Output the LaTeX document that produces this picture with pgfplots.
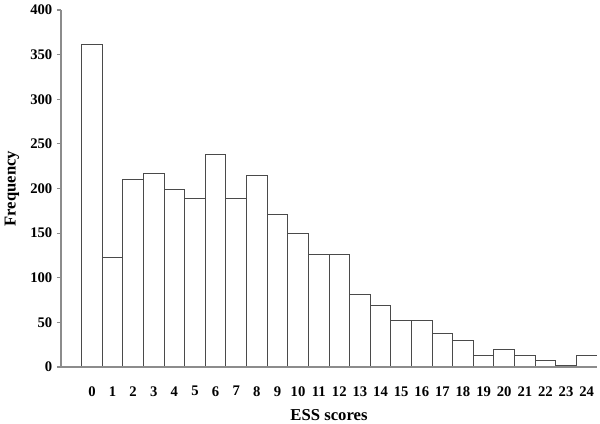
\documentclass[border=0pt]{standalone}
\usepackage{fontspec}
\setmainfont{Liberation Serif}
\usepackage{pgfplots}
\pgfplotsset{compat=1.18}
\definecolor{axisgray}{HTML}{8C8C8C}
\definecolor{bargray}{HTML}{4A4A4A}
\begin{document}
\begin{tikzpicture}
\useasboundingbox (-45.75pt,-42.75pt) rectangle (404.25pt,275.25pt);
\begin{axis}[
  at={(0,0)}, anchor=south west,
  scale only axis,
  width=402pt, height=267.75pt,
  xmin=-1.5, xmax=24.5,
  ymin=0, ymax=400,
  axis on top,
  axis x line*=bottom, axis y line*=left,
  axis line style={axisgray, line width=0.8pt},
  ytick={0,50,...,400},
  xtick={0,1,...,24},
  x tick style={draw=none},
  y tick style={axisgray, line width=0.8pt},
  tick align=outside,
  major tick length=3pt,
  /pgf/number format/assume math mode=true,
  tick label style={font=\fontsize{11}{13}\selectfont\bfseries},
  xticklabel style={yshift=-8pt},
  xlabel={ESS scores},
  ylabel={Frequency},
  every axis x label/.style={at={([yshift=-36pt]axis description cs:0.5,0)}, anchor=center, font=\fontsize{12.5}{15}\selectfont\bfseries},
  every axis y label/.style={at={([xshift=-36.75pt]axis description cs:0,0.5)}, anchor=center, rotate=90, font=\fontsize{12.5}{15}\selectfont\bfseries},
]
\addplot[ybar, bar width=1, bar shift=0, draw=bargray, fill=white, line width=0.7pt]
coordinates {
(0,361) (1,123) (2,210) (3,217) (4,199) (5,189) (6,238) (7,189) (8,215)
(9,171) (10,150) (11,126) (12,126) (13,81) (14,69) (15,52) (16,52)
(17,38) (18,30) (19,13) (20,20) (21,13) (22,7) (23,2) (24,13)
};
\end{axis}
\end{tikzpicture}
\end{document}
